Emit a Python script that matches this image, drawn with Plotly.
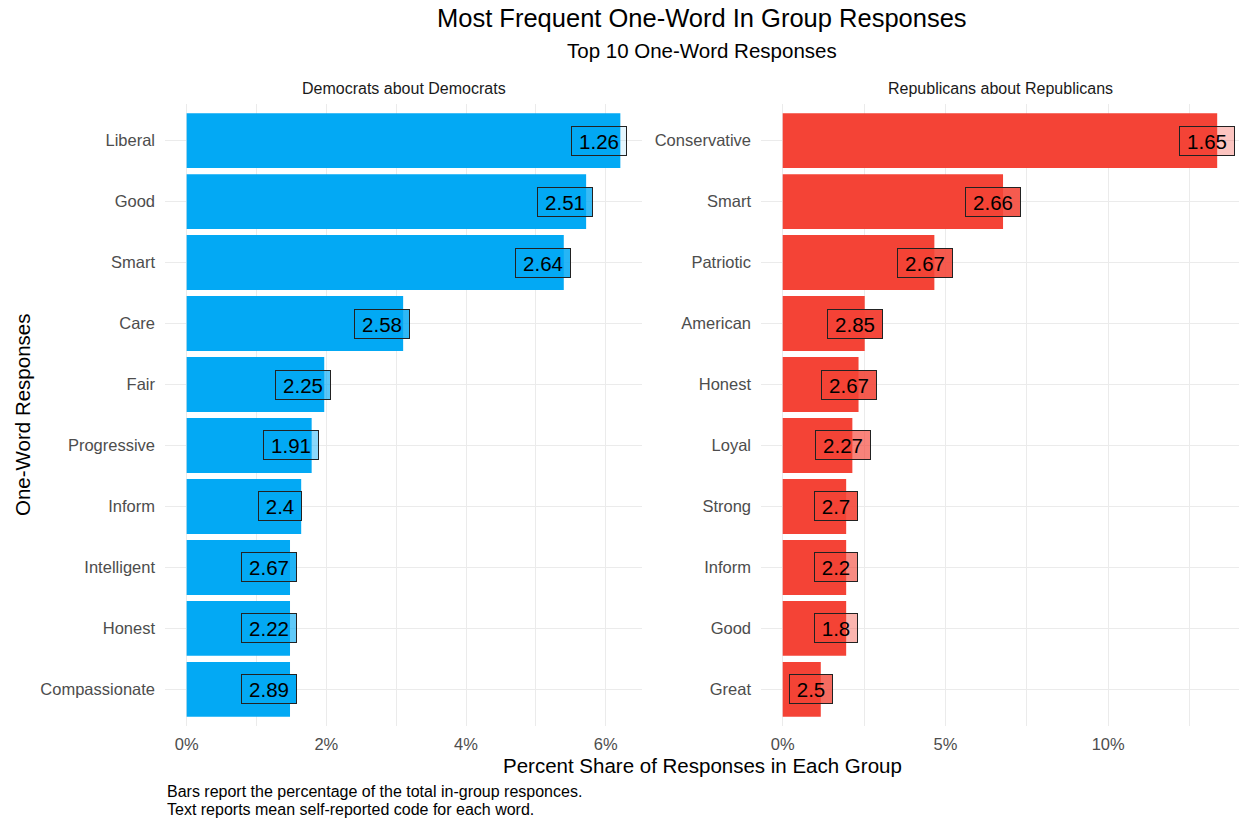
import plotly.graph_objects as go

# ---- data ----
dem_words = ["Liberal", "Good", "Smart", "Care", "Fair", "Progressive", "Inform",
             "Intelligent", "Honest", "Compassionate"]
dem_share = [6.21, 5.72, 5.40, 3.10, 1.97, 1.79, 1.64, 1.48, 1.48, 1.48]
dem_code = [1.26, 2.51, 2.64, 2.58, 2.25, 1.91, 2.4, 2.67, 2.22, 2.89]

rep_words = ["Conservative", "Smart", "Patriotic", "American", "Honest", "Loyal",
             "Strong", "Inform", "Good", "Great"]
rep_share = [13.35, 6.77, 4.66, 2.52, 2.33, 2.14, 1.95, 1.95, 1.95, 1.17]
rep_code = [1.65, 2.66, 2.67, 2.85, 2.67, 2.27, 2.7, 2.2, 1.8, 2.5]

panel_titles = ["Democrats about Democrats", "Republicans about Republicans"]
title = "Most Frequent One-Word In Group Responses"
subtitle = "Top 10 One-Word Responses"
x_title = "Percent Share of Responses in Each Group"
y_title = "One-Word Responses"
caption = ["Bars report the percentage of the total in-group responces.",
           "Text reports mean self-reported code for each word."]

# ---- style ----
W, H = 1239, 823
FONT = "Liberation Sans, Arial, Helvetica, sans-serif"
BLUE = "#03A9F4"
RED = "#F44336"
GRID = "#EBEBEB"
TICK_COL = "#4D4D4D"
NUDGE = -0.30

all_codes = dem_code + rep_code
cmin, cmax = min(all_codes), max(all_codes)


def alpha_of(v):
    return 0.1 + 0.9 * (v - cmin) / (cmax - cmin)


def rgba(hexc, a):
    h = hexc.lstrip("#")
    r, g, b = int(h[0:2], 16), int(h[2:4], 16), int(h[4:6], 16)
    return f"rgba({r},{g},{b},{a:.3f})"


def px_x(p):
    return p / W


def px_y(p):
    return 1 - p / H


fig = go.Figure()

fig.add_trace(go.Bar(x=dem_share, y=dem_words, orientation="h", marker_color=BLUE,
                     marker_line_width=0, width=0.9, xaxis="x", yaxis="y",
                     showlegend=False))
fig.add_trace(go.Bar(x=rep_share, y=rep_words, orientation="h", marker_color=RED,
                     marker_line_width=0, width=0.9, xaxis="x2", yaxis="y2",
                     showlegend=False))

annotations = []
for words, share, code, col, xr, yr in [
    (dem_words, dem_share, dem_code, BLUE, "x", "y"),
    (rep_words, rep_share, rep_code, RED, "x2", "y2"),
]:
    for w, s, c in zip(words, share, code):
        txt = f"{c:g}"
        annotations.append(dict(
            x=s + NUDGE, y=w, xref=xr, yref=yr, text=txt, showarrow=False,
            font=dict(family=FONT, size=20.5, color="black"),
            bgcolor=rgba(col, alpha_of(c)), bordercolor="#222222",
            borderwidth=1, borderpad=3, width=12 * len(txt), height=22,
            align="center", xanchor="center", yanchor="middle"))

# titles
annotations += [
    dict(x=px_x(702), y=px_y(18), xref="paper", yref="paper", text=title,
         showarrow=False, font=dict(family=FONT, size=25.5, color="black"),
         xanchor="center", yanchor="middle"),
    dict(x=px_x(702), y=px_y(50), xref="paper", yref="paper", text=subtitle,
         showarrow=False, font=dict(family=FONT, size=20.5, color="black"),
         xanchor="center", yanchor="middle"),
    dict(x=px_x(403.5), y=px_y(88), xref="paper", yref="paper", text=panel_titles[0],
         showarrow=False, font=dict(family=FONT, size=16, color="#1A1A1A"),
         xanchor="center", yanchor="middle"),
    dict(x=px_x(1000), y=px_y(88), xref="paper", yref="paper", text=panel_titles[1],
         showarrow=False, font=dict(family=FONT, size=16, color="#1A1A1A"),
         xanchor="center", yanchor="middle"),
    dict(x=px_x(702), y=px_y(765), xref="paper", yref="paper", text=x_title,
         showarrow=False, font=dict(family=FONT, size=20.5, color="black"),
         xanchor="center", yanchor="middle"),
    dict(x=px_x(22), y=px_y(415), xref="paper", yref="paper", text=y_title,
         showarrow=False, textangle=-90, font=dict(family=FONT, size=20.5, color="black"),
         xanchor="center", yanchor="middle"),
    dict(x=px_x(165), y=px_y(791), xref="paper", yref="paper", text=caption[0],
         showarrow=False, font=dict(family=FONT, size=16, color="black"),
         xanchor="left", yanchor="middle"),
    dict(x=px_x(165), y=px_y(809), xref="paper", yref="paper", text=caption[1],
         showarrow=False, font=dict(family=FONT, size=16, color="black"),
         xanchor="left", yanchor="middle"),
]

tickfont = dict(family=FONT, size=16.5, color=TICK_COL)
ydom = [px_y(726), px_y(104)]


def xaxis(dom, rng, dtick):
    return dict(domain=dom, range=rng, dtick=dtick, tick0=0, ticksuffix="%",
                showgrid=True, gridcolor=GRID, gridwidth=1.1, zeroline=False,
                showline=False, ticks="", tickfont=tickfont, fixedrange=True,
                ticklabelstandoff=6,
                minor=dict(dtick=dtick / 2, tick0=0, showgrid=True, gridcolor=GRID,
                           gridwidth=0.6))


def yaxis(anchor, words):
    return dict(domain=ydom, anchor=anchor, type="category",
                categoryorder="array", categoryarray=list(reversed(words)),
                range=[-0.6, 9.6], showgrid=True, gridcolor=GRID, gridwidth=1.1,
                zeroline=False, showline=False, ticks="", tickfont=tickfont,
                ticklabelstandoff=9, fixedrange=True)


fig.update_layout(
    width=W, height=H,
    margin=dict(l=0, r=0, t=0, b=0),
    paper_bgcolor="white", plot_bgcolor="white",
    font=dict(family=FONT),
    bargap=0.1,
    xaxis=xaxis([px_x(165), px_x(642)], [-0.31, 6.52], 2),
    xaxis2=xaxis([px_x(761), 1.0], [-0.667, 14.02], 5),
    yaxis=yaxis("x", dem_words),
    yaxis2=yaxis("x2", rep_words),
    annotations=annotations,
)
fig.layout.xaxis.anchor = "y"
fig.layout.xaxis2.anchor = "y2"

fig.write_html(
    "out.html",
    config={"displayModeBar": False},
    post_script="document.body.style.margin='0px';document.body.style.overflow='hidden';",
)
